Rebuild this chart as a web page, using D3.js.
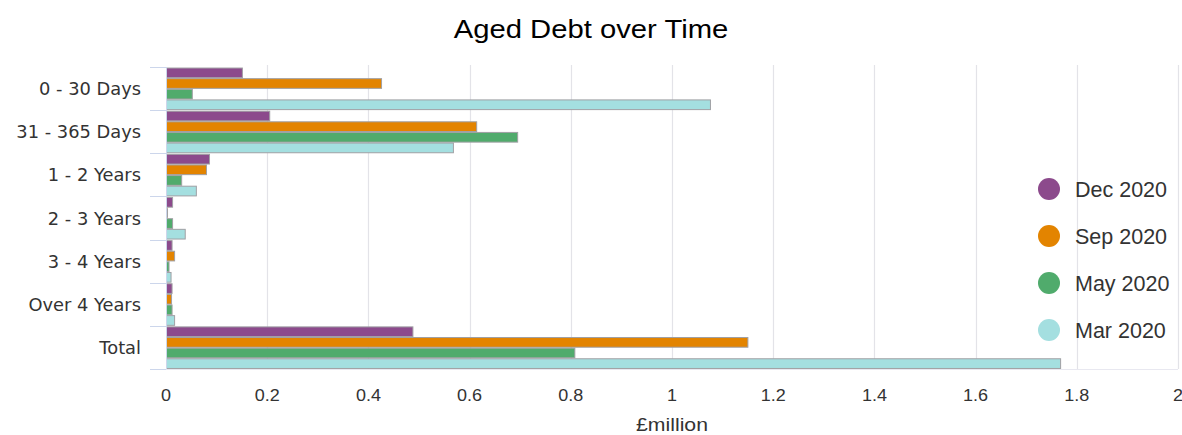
<!DOCTYPE html>
<html>
<head>
<meta charset="utf-8">
<script src="https://cdn.jsdelivr.net/npm/d3@7"></script>
<style>
  html, body { margin: 0; padding: 0; background: #ffffff; }
  svg { display: block; }
</style>
</head>
<body>
<svg id="chart" width="1182" height="435"></svg>
<script>
// ---- data ----
const title = "Aged Debt over Time";
const categories = ["0 - 30 Days", "31 - 365 Days", "1 - 2 Years", "2 - 3 Years", "3 - 4 Years", "Over 4 Years", "Total"];
const seriesNames = ["Dec 2020", "Sep 2020", "May 2020", "Mar 2020"];
const dec2020 = [0.150, 0.204, 0.085, 0.012, 0.011, 0.011, 0.487];
const sep2020 = [0.425, 0.613, 0.079, 0.002, 0.016, 0.010, 1.149];
const may2020 = [0.051, 0.694, 0.030, 0.012, 0.005, 0.011, 0.807];
const mar2020 = [1.075, 0.567, 0.059, 0.037, 0.009, 0.016, 1.767];
const xTicks = [0, 0.2, 0.4, 0.6, 0.8, 1, 1.2, 1.4, 1.6, 1.8, 2];
const xAxisTitle = "£million";

// ---- styles ----
const colors = ["#8c4a8c", "#e38400", "#50ab6c", "#a4dfe0"];
const seriesValues = [dec2020, sep2020, may2020, mar2020];

const svg = d3.select("#chart");
const W = 1182, H = 435;
const plot = { left: 166, right: 1178, top: 67, bottom: 369 };

const x = d3.scaleLinear().domain([0, 2]).range([plot.left, plot.right]);
const y = d3.scaleBand().domain(categories).range([plot.top, plot.bottom]).padding(0);
const ys = d3.scaleBand().domain(seriesNames).range([0, y.bandwidth()]).paddingInner(0.04).paddingOuter(0.05);
const color = d3.scaleOrdinal().domain(seriesNames).range(colors);

svg.append("rect").attr("width", W).attr("height", H).attr("fill", "#ffffff");

// title
svg.append("text")
  .attr("transform", `translate(${W / 2},38) scale(1.17,1)`)
  .attr("text-anchor", "middle")
  .attr("font-family", "Liberation Sans, Arial, sans-serif")
  .attr("font-size", 25)
  .attr("fill", "#000")
  .text(title);

// grid lines
svg.append("g").selectAll("line")
  .data(xTicks.filter(d => d > 0))
  .join("line")
  .attr("x1", d => Math.round(x(d)) + 0.5).attr("x2", d => Math.round(x(d)) + 0.5)
  .attr("y1", plot.top - 2).attr("y2", plot.bottom)
  .attr("stroke", "#e3e3e8").attr("stroke-width", 1.2);

// faint bottom line
svg.append("line")
  .attr("x1", plot.left).attr("x2", plot.right)
  .attr("y1", plot.bottom + 0.5).attr("y2", plot.bottom + 0.5)
  .attr("stroke", "#e8e8f0").attr("stroke-width", 1);

// bars
const groups = svg.append("g").selectAll("g")
  .data(categories)
  .join("g")
  .attr("transform", c => `translate(0,${y(c)})`);

groups.selectAll("rect")
  .data((c, i) => seriesNames.map((s, j) => ({ s, v: seriesValues[j][i] })))
  .join("rect")
  .attr("x", x(0) + 0.5)
  .attr("y", d => ys(d.s) + 0.5)
  .attr("width", d => Math.max(0, x(d.v) - x(0)))
  .attr("height", ys.bandwidth() - 0.5)
  .attr("fill", d => color(d.s))
  .attr("stroke", "#a0a0a4")
  .attr("stroke-width", 1);

// category axis line
svg.append("line")
  .attr("x1", plot.left + 0.5).attr("x2", plot.left + 0.5)
  .attr("y1", plot.top).attr("y2", plot.bottom)
  .attr("stroke", "#ccd6eb").attr("stroke-width", 1);

// category ticks at band boundaries
const boundaries = categories.map(c => y(c)).concat([y.range()[1]]);
svg.append("g").selectAll("line")
  .data(boundaries)
  .join("line")
  .attr("x1", plot.left - 16).attr("x2", plot.left)
  .attr("y1", d => Math.round(d) + 0.5).attr("y2", d => Math.round(d) + 0.5)
  .attr("stroke", "#ccd6eb").attr("stroke-width", 1);

// category labels
svg.append("g").selectAll("text")
  .data(categories)
  .join("text")
  .attr("transform", c => `translate(141,${y(c) + y.bandwidth() / 2 + 6.5}) scale(1.02,1)`)
  .attr("text-anchor", "end")
  .attr("font-family", "DejaVu Sans, Verdana, sans-serif")
  .attr("font-size", 17.5)
  .attr("fill", "#333333")
  .text(c => c);

// value axis labels
const fmt = d3.format("~g");
svg.append("g").selectAll("text")
  .data(xTicks)
  .join("text")
  .attr("transform", d => `translate(${x(d)},401) scale(1.06,1)`)
  .attr("text-anchor", "middle")
  .attr("font-family", "Liberation Sans, Arial, sans-serif")
  .attr("font-size", 17)
  .attr("fill", "#333333")
  .text(d => fmt(d));

// value axis title
svg.append("text")
  .attr("transform", `translate(${(plot.left + plot.right) / 2},431) scale(1.18,1)`)
  .attr("text-anchor", "middle")
  .attr("font-family", "Liberation Sans, Arial, sans-serif")
  .attr("font-size", 18)
  .attr("fill", "#333333")
  .text(xAxisTitle);

// legend
const legend = svg.append("g").selectAll("g")
  .data(seriesNames)
  .join("g")
  .attr("transform", (s, i) => `translate(1049,${189 + i * 47})`);
legend.append("circle").attr("r", 11).attr("fill", s => color(s));
legend.append("text")
  .attr("x", 26).attr("y", 8)
  .attr("font-family", "Liberation Sans, Arial, sans-serif")
  .attr("font-size", 21.5)
  .attr("fill", "#333333")
  .text(s => s);
</script>
</body>
</html>
